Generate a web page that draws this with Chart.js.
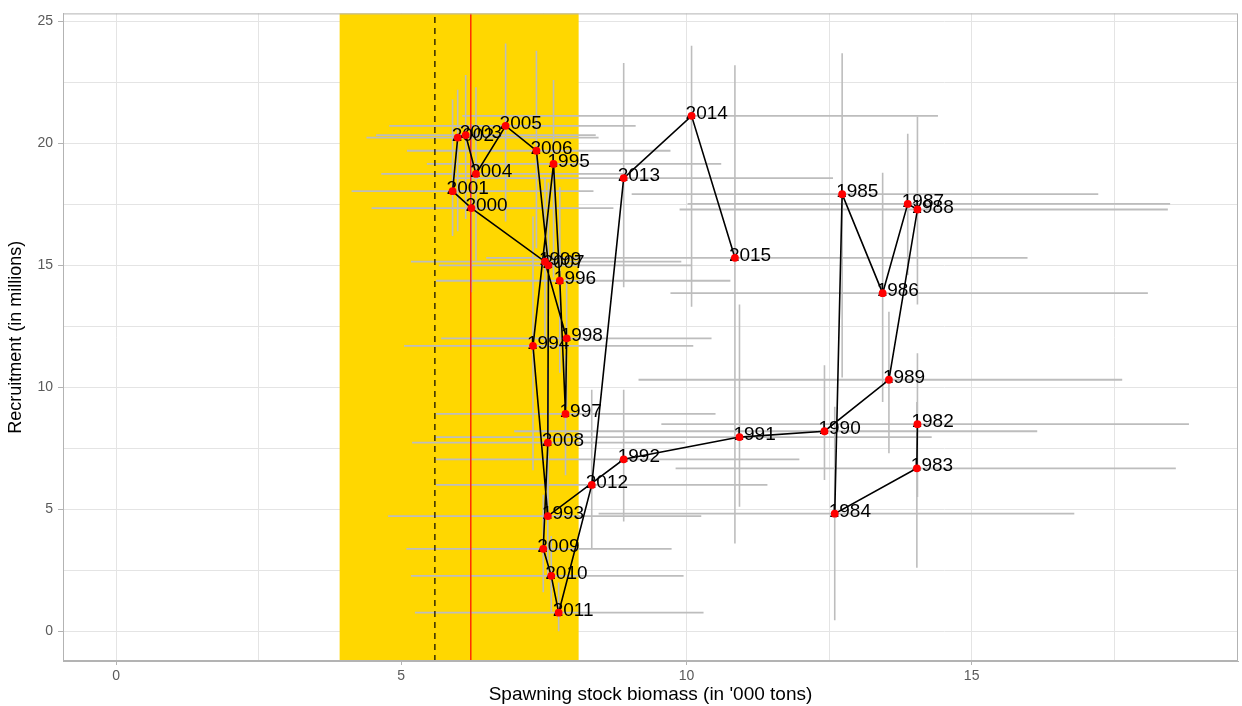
<!DOCTYPE html>
<html>
<head>
<meta charset="utf-8">
<script src="https://cdn.jsdelivr.net/npm/chart.js@4/dist/chart.umd.min.js"></script>
<style>
  body { margin: 0; background: #fff; }
  canvas { display: block; }
</style>
</head>
<body>
<canvas id="chartSR" width="1242" height="706"></canvas>
<script>
// stock-recruitment data, one entry per year
const years = [1982, 1983, 1984, 1985, 1986, 1987, 1988, 1989, 1990, 1991, 1992, 1993,
  1994, 1995, 1996, 1997, 1998, 1999, 2000, 2001, 2002, 2003, 2004, 2005, 2006, 2007,
  2008, 2009, 2010, 2011, 2012, 2013, 2014, 2015];
const ssb = [14.05, 14.04, 12.60, 12.73, 13.44, 13.88, 14.05, 13.55, 12.42, 10.93, 8.90, 7.57,
  7.31, 7.67, 7.78, 7.88, 7.90, 7.52, 6.23, 5.90, 5.99, 6.13, 6.31, 6.83, 7.37, 7.58,
  7.57, 7.49, 7.63, 7.76, 8.34, 8.90, 10.09, 10.85];
const recruits = [8.49, 6.68, 4.82, 17.92, 13.86, 17.52, 17.29, 10.31, 8.20, 7.96, 7.05, 4.72,
  11.70, 19.16, 14.37, 8.91, 12.01, 15.15, 17.35, 18.04, 20.24, 20.34, 18.75, 20.72, 19.70, 15.00,
  7.73, 3.38, 2.27, 0.76, 6.00, 18.58, 21.13, 15.31];
const ssbLow = [9.56, 9.81, 8.46, 9.04, 9.72, 10.02, 9.88, 9.16, 6.98, 5.60, 5.61, 4.77,
  5.05, 5.45, 5.61, 5.61, 5.70, 5.17, 4.48, 4.13, 4.39, 4.56, 4.65, 4.79, 5.10, 5.66,
  5.19, 5.09, 5.17, 5.24, 5.61, 5.90, 6.07, 6.49];
const ssbHigh = [18.81, 18.58, 16.80, 17.22, 18.09, 18.48, 18.44, 17.64, 16.15, 14.30, 11.98, 10.26,
  10.12, 10.61, 10.77, 10.51, 10.44, 9.91, 8.72, 8.37, 8.46, 8.41, 8.90, 9.11, 9.72, 10.09,
  9.98, 9.74, 9.95, 10.30, 11.42, 12.57, 14.41, 15.98];
const recLow = [5.5, 2.6, 0.45, 10.4, 9.4, 14.6, 13.4, 7.3, 6.2, 5.1, 4.5, 2.3,
  6.6, 14.5, 10.6, 6.4, 9.2, 11.8, 13.9, 16.2, 16.4, 16.9, 15.2, 16.8, 15.7, 11.5,
  5.0, 1.6, 0.8, 0.0, 3.4, 14.1, 13.3, 3.6];
const recHigh = [11.4, 9.4, 9.2, 23.7, 18.8, 20.4, 21.1, 13.1, 10.9, 13.4, 9.9, 7.4,
  17.0, 22.6, 18.2, 11.3, 14.6, 18.6, 20.8, 21.8, 22.2, 22.8, 22.3, 24.1, 23.8, 18.4,
  10.8, 5.6, 3.9, 2.0, 9.9, 23.3, 24.0, 23.2];

// reference points
const bandLow = 3.92, bandHigh = 8.11;
const dashedRef = 5.59;
const redRef = 6.22;

// axes
const xTicks = [0, 2.5, 5, 7.5, 10, 12.5, 15, 17.5];
const yTicks = [0, 2.5, 5, 7.5, 10, 12.5, 15, 17.5, 20, 22.5, 25];
const xMin = -0.93, xMax = 19.67;
const yMin = -1.22, yMax = 25.33;

const FONT = "'Liberation Sans', Arial, Helvetica, sans-serif";
const barGrey = '#bdbdbd';

const points = years.map((yr, i) => ({ x: ssb[i], y: recruits[i] }));

const errorBars = [];
years.forEach((yr, i) => {
  errorBars.push({
    data: [{ x: ssbLow[i], y: recruits[i] }, { x: ssbHigh[i], y: recruits[i] }],
    showLine: true, borderColor: barGrey, borderWidth: 1.8, pointRadius: 0, order: 4
  });
  errorBars.push({
    data: [{ x: ssb[i], y: recLow[i] }, { x: ssb[i], y: recHigh[i] }],
    showLine: true, borderColor: barGrey, borderWidth: 1.6, pointRadius: 0, order: 4
  });
});

const isMajor = v => Math.abs(v % 5) < 1e-9;

const bandPlugin = {
  id: 'band',
  beforeDatasetsDraw(chart) {
    const { ctx, chartArea, scales } = chart;
    const x0 = scales.x.getPixelForValue(bandLow);
    const x1 = scales.x.getPixelForValue(bandHigh);
    ctx.save();
    ctx.fillStyle = '#FFD700';
    ctx.fillRect(x0, chartArea.top, x1 - x0, chartArea.bottom - chartArea.top);
    ctx.restore();
  }
};

// year labels go on top of the path but under the red points
const labelPlugin = {
  id: 'yearLabels',
  afterDatasetDraw(chart, args) {
    if (args.index !== 1) return;
    const { ctx } = chart;
    const meta = chart.getDatasetMeta(0);
    ctx.save();
    ctx.font = '19px ' + FONT;
    ctx.fillStyle = '#000';
    ctx.textAlign = 'left';
    ctx.textBaseline = 'alphabetic';
    meta.data.forEach((pt, i) => {
      ctx.fillText(String(years[i]), pt.x - 6, pt.y + 3);
    });
    ctx.restore();
  }
};

const framePlugin = {
  id: 'frame',
  afterDraw(chart) {
    const { ctx, chartArea } = chart;
    ctx.save();
    ctx.strokeStyle = '#b3b3b3';
    ctx.lineWidth = 1;
    ctx.strokeRect(chartArea.left + 0.5, chartArea.top + 0.5,
      chartArea.right - chartArea.left - 1, chartArea.bottom - chartArea.top - 1);
    ctx.restore();
  }
};

new Chart(document.getElementById('chartSR'), {
  type: 'scatter',
  data: {
    datasets: [
      // red points
      { data: points, pointStyle: 'circle', backgroundColor: '#ff0000', borderColor: '#ff0000',
        borderWidth: 0, pointRadius: 3.9, order: 0 },
      // path through years
      { data: points, showLine: true, borderColor: '#000', borderWidth: 1.6, pointRadius: 0, order: 1 },
      // reference lines
      { data: [{ x: redRef, y: yMin }, { x: redRef, y: yMax }], showLine: true,
        borderColor: '#ff0000', borderWidth: 1.2, pointRadius: 0, order: 2 },
      { data: [{ x: dashedRef, y: yMin }, { x: dashedRef, y: yMax }], showLine: true,
        borderColor: '#000', borderWidth: 1.2, borderDash: [6, 5], pointRadius: 0, order: 3 },
      ...errorBars
    ]
  },
  options: {
    responsive: false,
    animation: false,
    layout: { padding: { top: 8, right: 2, left: 0, bottom: 0 } },
    plugins: { legend: { display: false }, tooltip: { enabled: false } },
    scales: {
      x: {
        type: 'linear', min: xMin, max: xMax,
        afterBuildTicks: s => { s.ticks = xTicks.map(v => ({ value: v })); },
        afterFit: s => { s.height = 45; },
        ticks: {
          autoSkip: false, maxRotation: 0, padding: 3, color: '#5a5a5a',
          font: { family: FONT, size: 14 },
          callback: v => isMajor(v) ? String(v) : ''
        },
        grid: {
          color: '#e4e4e4', lineWidth: 1, tickLength: 4,
          tickColor: c => (c.tick && isMajor(c.tick.value)) ? '#b3b3b3' : 'rgba(0,0,0,0)'
        },
        border: { display: true, color: '#b3b3b3' },
        title: {
          display: true, text: "Spawning stock biomass (in '000 tons)", color: '#000',
          font: { family: FONT, size: 19 }, padding: { top: 0, bottom: 0 }
        }
      },
      y: {
        type: 'linear', min: yMin, max: yMax,
        afterBuildTicks: s => { s.ticks = yTicks.map(v => ({ value: v })); },
        afterFit: s => { s.width = 63; },
        ticks: {
          autoSkip: false, padding: 5, color: '#5a5a5a',
          font: { family: FONT, size: 14 },
          callback: v => isMajor(v) ? String(v) : ''
        },
        grid: {
          color: '#e4e4e4', lineWidth: 1, tickLength: 5,
          tickColor: c => (c.tick && isMajor(c.tick.value)) ? '#b3b3b3' : 'rgba(0,0,0,0)'
        },
        border: { display: true, color: '#b3b3b3' },
        title: {
          display: true, text: 'Recruitment (in millions)', color: '#000',
          font: { family: FONT, size: 18 }, padding: { top: 5, bottom: 0 }
        }
      }
    }
  },
  plugins: [bandPlugin, labelPlugin, framePlugin]
});
</script>
</body>
</html>
